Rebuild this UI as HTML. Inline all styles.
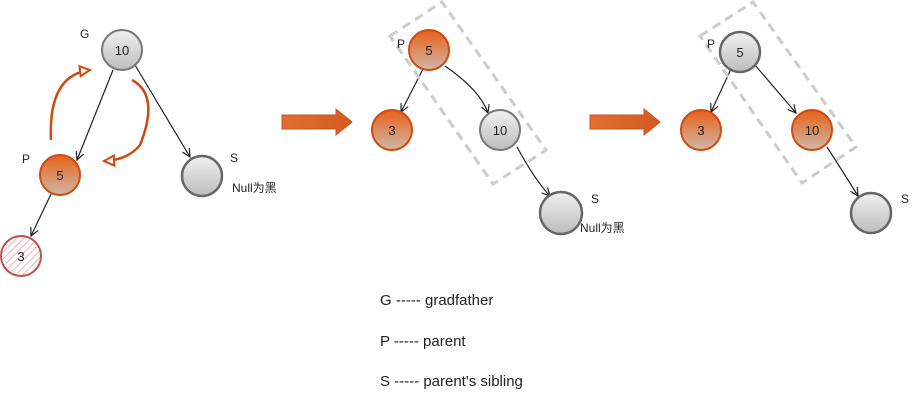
<!DOCTYPE html>
<html><head><meta charset="utf-8"><style>
body{margin:0;background:#fff;width:921px;height:401px;overflow:hidden}
text{font-family:"Liberation Sans","Noto Sans CJK SC",sans-serif;fill:#222}
</style></head><body>
<svg width="921" height="401" viewBox="0 0 921 401" xmlns="http://www.w3.org/2000/svg">
<defs>
<linearGradient id="gr" x1="0" y1="0" x2="0" y2="1"><stop offset="0" stop-color="#f0f0f0"/><stop offset="1" stop-color="#bdbdbd"/></linearGradient>
<linearGradient id="or" x1="0" y1="0" x2="0" y2="1"><stop offset="0" stop-color="#e8601a"/><stop offset="1" stop-color="#cfb8a8"/></linearGradient>
<pattern id="hat" width="5" height="5" patternUnits="userSpaceOnUse" patternTransform="rotate(45)"><rect width="5" height="5" fill="#fff"/><line x1="0" y1="0" x2="0" y2="5" stroke="#e8a0a0" stroke-width="1.5"/></pattern>
<marker id="ah" markerUnits="userSpaceOnUse" markerWidth="12" markerHeight="12" refX="10" refY="6" orient="auto"><path d="M2,2 L10,6 L2,10" fill="none" stroke="#222" stroke-width="1.2"/></marker>
<marker id="oh" markerUnits="userSpaceOnUse" markerWidth="14" markerHeight="14" refX="12" refY="7" orient="auto"><path d="M2,2 L12,7 L2,12 Z" fill="#fff" stroke="#d04a10" stroke-width="2"/></marker>
<linearGradient id="ba" x1="0" y1="0" x2="1" y2="0"><stop offset="0" stop-color="#e07030"/><stop offset="1" stop-color="#d55a20"/></linearGradient>
</defs>
<g stroke="#222" stroke-width="1.2" fill="none" marker-end="url(#ah)">
<line x1="113" y1="70" x2="77" y2="160"/>
<line x1="135" y1="65" x2="190" y2="157"/>
<line x1="51" y1="194" x2="31" y2="236"/>
<line x1="423" y1="69" x2="401" y2="112"/>
<path d="M445,66 Q480,90 488,113"/>
<path d="M517,147 Q535,180 550,196"/>
<line x1="731" y1="69" x2="711" y2="112"/>
<line x1="755" y1="65" x2="796" y2="113"/>
<path d="M827,147 Q845,175 858,196"/>
</g>
<g stroke="#d04a10" stroke-width="2.5" fill="none" marker-end="url(#oh)">
<path d="M51,140 Q48,75 90,70"/>
<path d="M132,80 Q160,95 140,145 Q128,160 104,161"/>
</g>
<g fill="none" stroke="#ccc" stroke-width="3" stroke-dasharray="9,6">
<polygon points="390,36 442,2 546,150 493,184"/>
<polygon points="700,36 753,2 856,147 802,183"/>
</g>
<path d="M282,115 L336,115 L336,109 L352,122 L336,135 L336,129 L282,129 Z" fill="url(#ba)" stroke="#c85020"/>
<path d="M590,115 L644,115 L644,109 L660,122 L644,135 L644,129 L590,129 Z" fill="url(#ba)" stroke="#c85020"/>
<g stroke-width="2">
<circle cx="122" cy="50" r="20" fill="url(#gr)" stroke="#777"/>
<circle cx="60" cy="175" r="20" fill="url(#or)" stroke="#d04a10"/>
<circle cx="21" cy="256" r="20" fill="url(#hat)" stroke="#c05050"/>
<circle cx="202" cy="176" r="20" fill="url(#gr)" stroke="#666" stroke-width="2.5"/>
<circle cx="429" cy="50" r="20" fill="url(#or)" stroke="#d04a10"/>
<circle cx="392" cy="130" r="20" fill="url(#or)" stroke="#d04a10"/>
<circle cx="500" cy="130" r="20" fill="url(#gr)" stroke="#777"/>
<circle cx="561" cy="213" r="21" fill="url(#gr)" stroke="#666" stroke-width="2.5"/>
<circle cx="740" cy="52" r="20" fill="url(#gr)" stroke="#666" stroke-width="2.5"/>
<circle cx="701" cy="130" r="20" fill="url(#or)" stroke="#d04a10"/>
<circle cx="812" cy="130" r="20" fill="url(#or)" stroke="#d04a10"/>
<circle cx="871" cy="213" r="20" fill="url(#gr)" stroke="#666" stroke-width="2.5"/>
</g>
<g font-size="13" text-anchor="middle">
<text x="122" y="55">10</text><text x="60" y="180">5</text><text x="21" y="261">3</text>
<text x="429" y="55">5</text><text x="392" y="135">3</text><text x="500" y="135">10</text>
<text x="740" y="57">5</text><text x="701" y="135">3</text><text x="812" y="135">10</text>
</g>
<g font-size="12">
<text x="80" y="38">G</text><text x="22" y="163">P</text><text x="230" y="162">S</text>
<text x="397" y="48">P</text><text x="591" y="203">S</text>
<text x="707" y="48">P</text><text x="901" y="203">S</text>
<text x="232" y="192" font-size="12">Null为黑</text>
<text x="580" y="232" font-size="12">Null为黑</text>
</g>
<g font-size="15">
<text x="380" y="305">G ----- gradfather</text>
<text x="380" y="346">P ----- parent</text>
<text x="380" y="386">S ----- parent's sibling</text>
</g>
</svg>
</body></html>
